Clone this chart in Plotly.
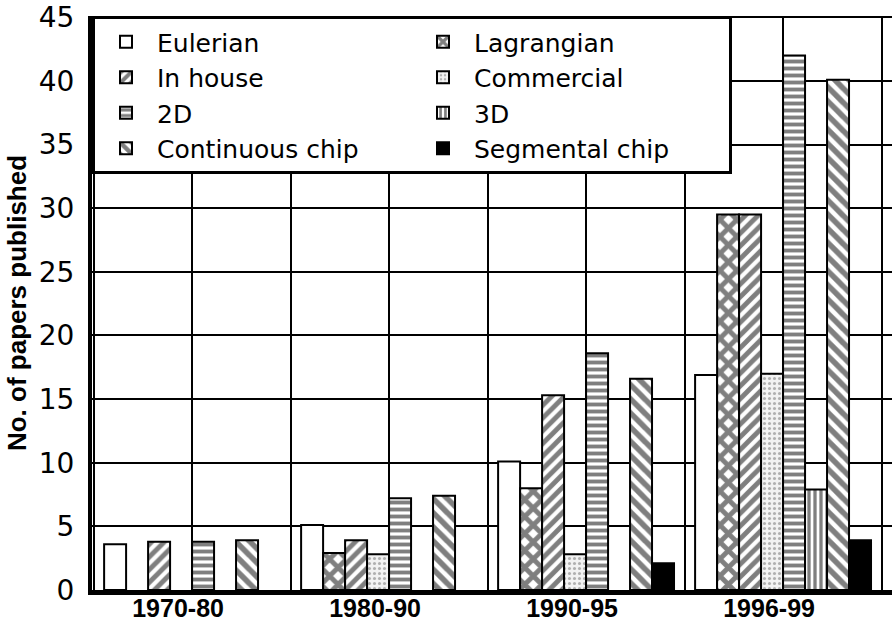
import plotly.graph_objects as go

periods = ["1970-80", "1980-90", "1990-95", "1996-99"]

eulerian = [3.6, 5.1, 10.1, 16.9]
lagrangian = [None, 2.9, 8.0, 29.5]
in_house = [3.8, 3.9, 15.3, 29.5]
commercial = [None, 2.8, 2.8, 17.0]
two_d = [3.8, 7.2, 18.6, 42.0]
three_d = [None, None, None, 7.9]
continuous_chip = [3.9, 7.4, 16.6, 40.1]
segmental_chip = [None, None, 2.1, 3.9]

y_ticks = [0, 5, 10, 15, 20, 25, 30, 35, 40, 45]

series = [
    ("Eulerian", eulerian, dict(shape="", bgcolor="white")),
    ("Lagrangian", lagrangian, dict(shape="x", fgcolor="black", bgcolor="white", size=12, solidity=0.65)),
    ("In house", in_house, dict(shape="/", fgcolor="black", bgcolor="white", size=9, solidity=0.55)),
    ("Commercial", commercial, dict(shape=".", fgcolor="#6e6e6e", bgcolor="#f2f2f2", size=5, solidity=0.3)),
    ("2D", two_d, dict(shape="-", fgcolor="black", bgcolor="white", size=7, solidity=0.55)),
    ("3D", three_d, dict(shape="|", fgcolor="black", bgcolor="white", size=6, solidity=0.55)),
    ("Continuous chip", continuous_chip, dict(shape="\\", fgcolor="black", bgcolor="white", size=10, solidity=0.55)),
    ("Segmental chip", segmental_chip, dict(shape="", bgcolor="black")),
]

x_pos = list(range(len(periods)))

fig = go.Figure()
for name, vals, pat in series:
    color = "black" if name == "Segmental chip" else "white"
    fig.add_trace(go.Bar(
        x=x_pos, y=vals, name=name,
        marker=dict(color=color, pattern=pat, line=dict(color="black", width=2)),
    ))

fig.update_layout(
    width=892, height=631,
    margin=dict(l=92, r=0, t=16, b=41),
    paper_bgcolor="white", plot_bgcolor="white",
    barmode="group", bargap=0.107, bargroupgap=0,
    font=dict(family="Liberation Sans, Arial", color="black"),
    showlegend=True,
    legend=dict(
        orientation="h", x=0, y=1, xanchor="left", yanchor="top",
        bgcolor="white", bordercolor="black", borderwidth=3,
        font=dict(family="DejaVu Sans", size=25, color="black"),
        entrywidth=250, itemwidth=52, traceorder="normal",
    ),
)

fig.update_xaxes(
    range=[-0.508, 3.553], automargin=False,
    tickmode="array", tickvals=x_pos, ticktext=periods,
    tickfont=dict(family="Liberation Sans, Arial", size=25, color="black", weight="bold"),
    ticks="", ticklabelshift=-14, ticklabelstandoff=-8,
    showgrid=True, gridcolor="black", gridwidth=1.5,
    minor=dict(tick0=0, dtick=0.5, showgrid=True, gridcolor="black", gridwidth=1.5),
    showline=True, linecolor="black", linewidth=5,
    zeroline=False,
)

fig.update_yaxes(
    range=[0, 45.1], automargin=False,
    tickmode="array", tickvals=y_ticks,
    tickfont=dict(family="DejaVu Sans", size=28, color="black"),
    ticks="", ticklabelstandoff=8,
    showgrid=True, gridcolor="black", gridwidth=2,
    showline=True, linecolor="black", linewidth=4,
    zeroline=False,
    title=dict(text="No. of papers published", standoff=6,
               font=dict(family="Liberation Sans, Arial", size=26, color="black", weight="bold")),
)

fig.write_html("out.html", config={"displayModeBar": False},
               post_script="document.body.style.margin='0';")
